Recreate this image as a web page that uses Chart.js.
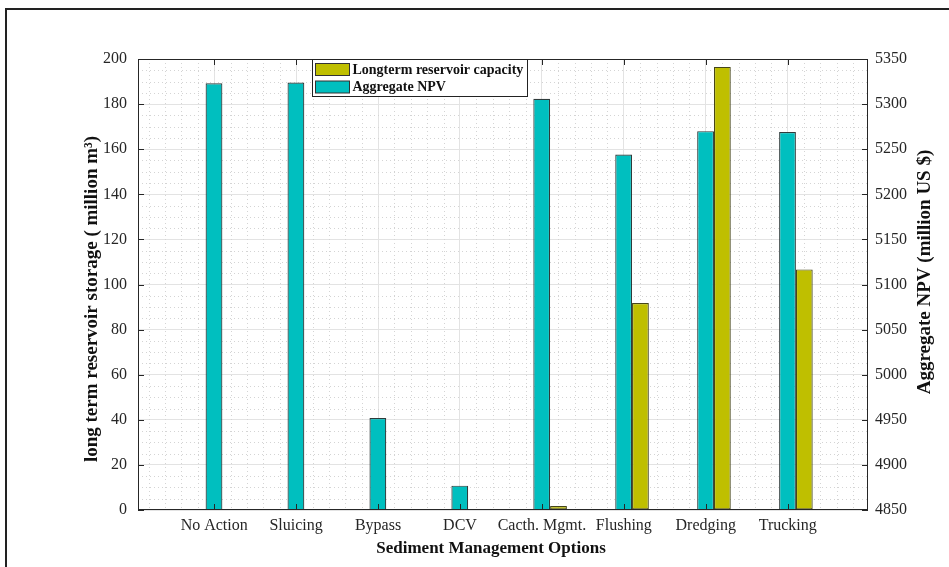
<!DOCTYPE html>
<html lang="en">

<head>
  <meta charset="UTF-8">
  <title>Sediment Management Options</title>
  <script src="https://cdn.jsdelivr.net/npm/chart.js@4.4.1/dist/chart.umd.min.js"></script>
  <style>
    body { margin: 0; background: #fff; }
    #wrap { position: relative; width: 949px; height: 567px; }
    #frame {
      position: absolute; left: 5px; top: 8px; right: 0; bottom: 0;
      border-left: 2px solid #222; border-top: 2px solid #222;
      pointer-events: none;
    }
  </style>
</head>

<body>
  <div id="wrap">
    <canvas id="optionsChart"></canvas>
    <div id="frame"></div>
  </div>

  <script>
    // Data
    const categories = ['No Action', 'Sluicing', 'Bypass', 'DCV', 'Cacth. Mgmt.', 'Flushing', 'Dredging', 'Trucking'];
    const capacity = [0, 0, 0, 0, 1.8, 91.8, 196.5, 106.7];        // million m3 (left axis)
    const npv = [5323, 5324, 4952, 4877, 5306, 5244, 5270, 5269];  // million US $ (right axis)
    const leftTicks = [0, 20, 40, 60, 80, 100, 120, 140, 160, 180, 200];
    const rightTicks = [4850, 4900, 4950, 5000, 5050, 5100, 5150, 5200, 5250, 5300, 5350];

    const CYAN = '#00bfbf';
    const OLIVE = '#bfbf00';
    const FONT = "'Liberation Serif', 'Times New Roman', serif";

    // bar groups sit at 1..8, tick labels under the left (NPV) bar
    const positions = categories.map((c, i) => i + 1);
    const tickShift = -0.1;
    const xMin = -0.03, xMax = 8.88;

    // dotted minor grid, plot box and inward tick marks
    const gridPlugin = {
      id: 'gridPlugin',
      beforeDatasetsDraw(chart) {
        const { ctx, chartArea: a, scales } = chart;
        ctx.save();
        ctx.strokeStyle = '#d4d4d4';
        ctx.lineWidth = 1;
        ctx.setLineDash([1, 3]);
        ctx.beginPath();
        for (let k = -10; k <= 60; k++) {
          if (k % 5 === 0) continue;
          const v = 1 + tickShift + k * 0.2;
          if (v <= xMin || v >= xMax) continue;
          const px = Math.round(scales.x.getPixelForValue(v)) + 0.5;
          ctx.moveTo(px, a.top);
          ctx.lineTo(px, a.bottom);
        }
        for (let v = 5; v < 200; v += 5) {
          if (v % 20 === 0) continue;
          const py = Math.round(scales.y.getPixelForValue(v)) + 0.5;
          ctx.moveTo(a.left, py);
          ctx.lineTo(a.right, py);
        }
        ctx.stroke();
        ctx.restore();
      },
      afterDatasetsDraw(chart) {
        const { ctx, chartArea: a, scales } = chart;
        const len = 6;
        ctx.save();
        ctx.strokeStyle = '#262626';
        ctx.lineWidth = 1;
        ctx.strokeRect(a.left + 0.5, a.top + 0.5, a.right - a.left - 1, a.bottom - a.top - 1);
        ctx.beginPath();
        positions.forEach(p => {
          const px = Math.round(scales.x.getPixelForValue(p + tickShift)) + 0.5;
          ctx.moveTo(px, a.top); ctx.lineTo(px, a.top + len);
          ctx.moveTo(px, a.bottom); ctx.lineTo(px, a.bottom - len);
        });
        leftTicks.forEach(v => {
          const py = Math.round(scales.y.getPixelForValue(v)) + 0.5;
          ctx.moveTo(a.left, py); ctx.lineTo(a.left + len, py);
        });
        rightTicks.forEach(v => {
          const py = Math.round(scales.y1.getPixelForValue(v)) + 0.5;
          ctx.moveTo(a.right, py); ctx.lineTo(a.right - len, py);
        });
        ctx.stroke();
        ctx.restore();
      }
    };

    // boxed legend inside the plot, plus the three axis titles
    const labelsPlugin = {
      id: 'labelsPlugin',
      afterDraw(chart) {
        const { ctx, chartArea: a } = chart;
        ctx.save();

        // legend: capacity first, then NPV
        const entries = [chart.data.datasets[1], chart.data.datasets[0]];
        const bx = 312.5, by = a.top + 0.5, bw = 215, bh = 37;
        ctx.fillStyle = '#fff';
        ctx.fillRect(bx, by, bw, bh);
        ctx.strokeStyle = '#222';
        ctx.lineWidth = 1;
        ctx.strokeRect(bx, by, bw, bh);
        ctx.font = 'bold 14px ' + FONT;
        ctx.textBaseline = 'middle';
        ctx.textAlign = 'left';
        entries.forEach((ds, i) => {
          const sy = by + 4 + i * 17.5;
          ctx.fillStyle = ds.backgroundColor;
          ctx.fillRect(bx + 3, sy, 34, 12);
          ctx.strokeStyle = '#333';
          ctx.strokeRect(bx + 3, sy, 34, 12);
          ctx.fillStyle = '#111';
          ctx.fillText(ds.label, bx + 40, sy + 6.5);
        });

        ctx.fillStyle = '#111';
        ctx.textAlign = 'center';
        ctx.font = 'bold 17px ' + FONT;
        ctx.fillText('Sediment Management Options', 491, 549);

        ctx.font = 'bold 19px ' + FONT;
        ctx.save();
        ctx.translate(92, 299);
        ctx.rotate(-Math.PI / 2);
        ctx.fillText('long term reservoir storage ( million m³)', 0, 0);
        ctx.restore();

        ctx.translate(925, 272);
        ctx.rotate(-Math.PI / 2);
        ctx.fillText('Aggregate NPV (million US $)', 0, 0);
        ctx.restore();
      }
    };

    const tickFont = { family: FONT, size: 16 };

    const chart = new Chart(document.getElementById('optionsChart'), {
      type: 'bar',
      data: {
        datasets: [{
          label: 'Aggregate NPV',
          data: positions.map((p, i) => ({ x: p, y: npv[i] })),
          backgroundColor: CYAN,
          borderColor: '#2f3b3b',
          borderWidth: 1.2,
          borderSkipped: false,
          yAxisID: 'y1'
        }, {
          label: 'Longterm reservoir capacity',
          data: positions.map((p, i) => ({ x: p, y: capacity[i] })),
          backgroundColor: OLIVE,
          borderColor: '#45451a',
          borderWidth: 1.2,
          borderSkipped: false,
          yAxisID: 'y'
        }]
      },
      options: {
        responsive: true,
        maintainAspectRatio: false,
        animation: false,
        categoryPercentage: 0.41,
        barPercentage: 1.0,
        layout: { padding: { left: 70, top: 59, right: 0, bottom: 0 } },
        plugins: {
          legend: { display: false },
          tooltip: { enabled: false }
        },
        scales: {
          x: {
            type: 'linear',
            min: xMin,
            max: xMax,
            offset: false,
            afterBuildTicks: scale => {
              scale.ticks = positions.map(p => ({ value: p + tickShift }));
            },
            afterFit: scale => { scale.height = 57; },
            grid: { offset: false, color: '#e3e3e3', drawTicks: false },
            border: { display: false },
            ticks: {
              autoSkip: false,
              maxRotation: 0,
              padding: 6,
              color: '#262626',
              font: tickFont,
              callback: (v, i) => categories[i]
            }
          },
          y: {
            position: 'left',
            min: 0,
            max: 200,
            afterBuildTicks: scale => {
              scale.ticks = leftTicks.map(v => ({ value: v }));
            },
            afterFit: scale => { scale.width = 68; },
            grid: { color: '#e3e3e3', drawTicks: false },
            border: { display: false },
            ticks: { padding: 11, color: '#262626', font: tickFont, callback: v => String(v) }
          },
          y1: {
            position: 'right',
            min: 4850,
            max: 5350,
            afterBuildTicks: scale => {
              scale.ticks = rightTicks.map(v => ({ value: v }));
            },
            afterFit: scale => { scale.width = 81; },
            grid: { display: false, drawTicks: false },
            border: { display: false },
            ticks: { padding: 7, color: '#262626', font: tickFont, callback: v => String(v) }
          }
        }
      },
      plugins: [gridPlugin, labelsPlugin]
    });
  </script>

</body>
</html>
